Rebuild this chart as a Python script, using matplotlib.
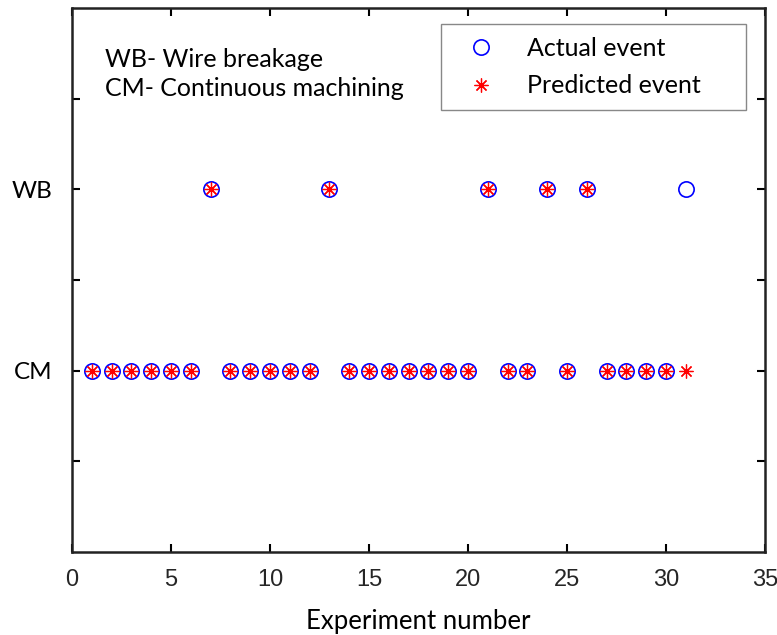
import matplotlib
matplotlib.use("Agg")
import matplotlib.pyplot as plt
from matplotlib import font_manager as fm

names = {f.name for f in fm.fontManager.ttflist}
txt_font = "Lato" if "Lato" in names else "DejaVu Sans"
num_font = "Liberation Sans" if "Liberation Sans" in names else "DejaVu Sans"

experiments = list(range(1, 32))
actual = [1, 1, 1, 1, 1, 1, 2, 1, 1, 1, 1, 1, 2, 1, 1, 1, 1, 1, 1, 1,
          2, 1, 1, 2, 1, 2, 1, 1, 1, 1, 2]
predicted = [1, 1, 1, 1, 1, 1, 2, 1, 1, 1, 1, 1, 2, 1, 1, 1, 1, 1, 1, 1,
             2, 1, 1, 2, 1, 2, 1, 1, 1, 1, 1]
ytick_pos = [0.5, 1, 1.5, 2, 2.5]
ytick_labels = ["", "CM", "", "WB", ""]
xticks = [0, 5, 10, 15, 20, 25, 30, 35]

fig = plt.figure(figsize=(7.77, 6.35), dpi=100)
ax = fig.add_axes([72/777, 1-552/635, (765-72)/777, (552-8)/635])

ax.plot(experiments, actual, linestyle="none", marker="o", markersize=11,
        markerfacecolor="none", markeredgecolor="blue", markeredgewidth=1.2,
        label="Actual event")
ax.plot(experiments, predicted, linestyle="none", marker=(8, 2, 0), markersize=10,
        color="red", markeredgecolor="red", markeredgewidth=0.9,
        label="Predicted event     ")

ax.set_xlim(0, 35)
ax.set_ylim(0, 3)
ax.set_xticks(xticks)
ax.set_xticklabels([str(v) for v in xticks], fontfamily=num_font, fontsize=17,
                   color="#262626")
ax.set_yticks(ytick_pos)
ax.set_yticklabels(ytick_labels, fontfamily=txt_font, fontsize=17.5)
ax.tick_params(direction="in", length=6, width=1.5, top=True, right=True)
ax.tick_params(axis="x", pad=12)
ax.tick_params(axis="y", pad=14)
for s in ax.spines.values():
    s.set_linewidth(1.8)
    s.set_color("#222222")

ax.set_xlabel("Experiment number", fontfamily=txt_font, fontsize=18.5, labelpad=13)

ax.text(0.047, 0.926, "WB- Wire breakage\nCM- Continuous machining",
        transform=ax.transAxes, fontfamily=txt_font, fontsize=18,
        va="top", ha="left", linespacing=1.3)

leg = ax.legend(loc="upper right", bbox_to_anchor=(0.9726, 0.9706),
                prop={"family": txt_font, "size": 18}, fancybox=False,
                framealpha=1, edgecolor="#888888", borderpad=0.52,
                handletextpad=0.76, handlelength=2.16, labelspacing=0.58,
                borderaxespad=0)
leg.get_frame().set_linewidth(1.0)

fig.savefig("out.png", dpi=100)
